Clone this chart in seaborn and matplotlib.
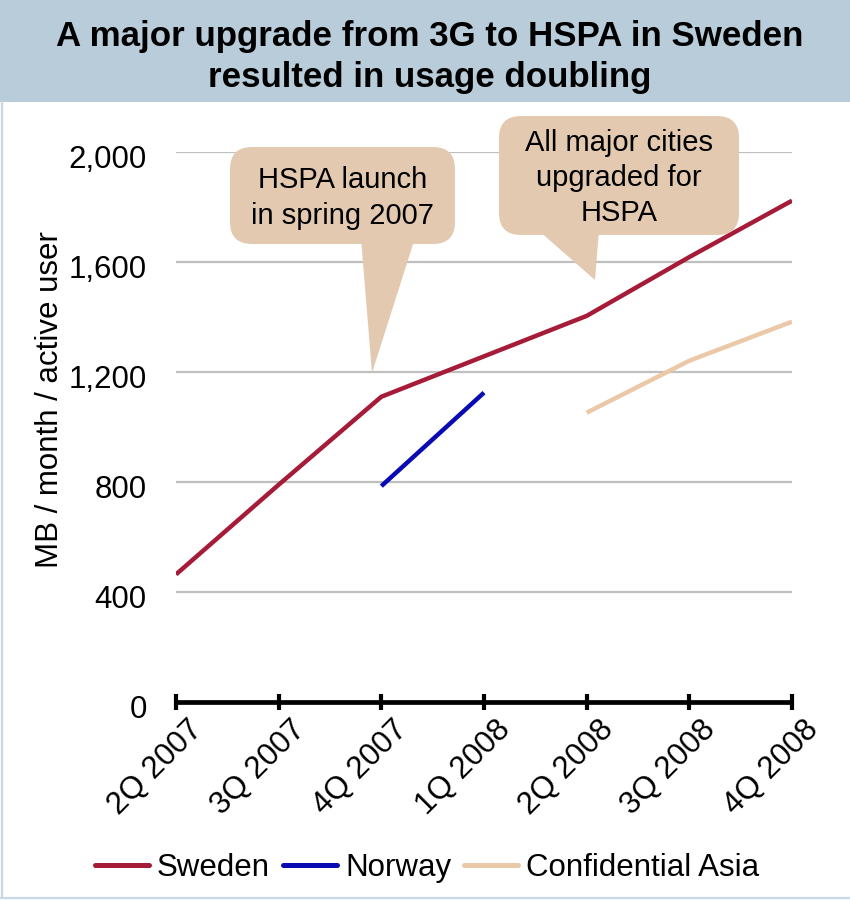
import matplotlib
matplotlib.use("Agg")
import matplotlib.pyplot as plt
import matplotlib.transforms as mtransforms
from matplotlib.patches import FancyBboxPatch, Polygon, Rectangle
from matplotlib.lines import Line2D
import seaborn as sns
import pandas as pd

# Quarterly data usage (MB / month / active user)
quarters = ["2Q 2007", "3Q 2007", "4Q 2007", "1Q 2008", "2Q 2008", "3Q 2008", "4Q 2008"]
sweden = [464, 790, 1110, 1257, 1404, 1618, 1823]
norway_quarters = ["4Q 2007", "1Q 2008"]
norway = [785, 1125]
asia_quarters = ["2Q 2008", "3Q 2008", "4Q 2008"]
asia = [1052, 1241, 1383]

series_names = ["Sweden", "Norway", "Confidential Asia"]
series_colors = ["#a51b38", "#0a0ab4", "#ebc9a8"]
y_ticks = [0, 400, 800, 1200, 1600, 2000]

frames = [
    pd.DataFrame({"quarter": quarters, "usage": sweden, "series": "Sweden"}),
    pd.DataFrame({"quarter": norway_quarters, "usage": norway, "series": "Norway"}),
    pd.DataFrame({"quarter": asia_quarters, "usage": asia, "series": "Confidential Asia"}),
]
df = pd.concat(frames, ignore_index=True)

sns.set_theme(style="white")
plt.rcParams["font.family"] = ["Liberation Sans", "DejaVu Sans"]
plt.rcParams["text.color"] = "black"
plt.rcParams["xtick.color"] = "black"
plt.rcParams["ytick.color"] = "black"
plt.rcParams["xtick.labelcolor"] = "black"
plt.rcParams["ytick.labelcolor"] = "black"

W, H = 850, 900
fig = plt.figure(figsize=(W / 100, H / 100), dpi=100)


def fx(x):
    return x / W


def fy(y):
    return 1 - y / H


# header band and thin frame
fig.patches.append(Rectangle((0, fy(102)), 1, 102 / H, transform=fig.transFigure,
                             facecolor="#b9ccda", edgecolor="none", zorder=0))
fig.add_artist(Line2D([fx(2), fx(2)], [fy(102), fy(898)], transform=fig.transFigure,
                      color="#c9d8e5", lw=1.6))
fig.add_artist(Line2D([fx(0), fx(850)], [fy(898), fy(898)], transform=fig.transFigure,
                      color="#c9d8e5", lw=1.6))

fig.text(fx(430), fy(57), "A major upgrade from 3G to HSPA in Sweden\nresulted in usage doubling",
         ha="center", va="center", fontsize=25.1, fontweight="bold", linespacing=1.3,
         color="black")

ax_left, ax_right, ax_top, ax_bottom = 176, 792, 152, 702
ax = fig.add_axes([fx(ax_left), fy(ax_bottom), (ax_right - ax_left) / W, (ax_bottom - ax_top) / H])
ax.set_facecolor("none")

sns.lineplot(data=df, x="quarter", y="usage", hue="series", hue_order=series_names,
             palette=series_colors, linewidth=3.2, ax=ax, legend=False, sort=False,
             zorder=3)
for line in ax.lines:
    line.set_solid_capstyle("butt")
    line.set_solid_joinstyle("miter")

ax.set_xlim(0, len(quarters) - 1)
ax.set_ylim(0, 2000)
ax.set_yticks(y_ticks)
ax.set_yticklabels([f"{v:,}" for v in y_ticks], fontsize=22.5)
for v in y_ticks[1:]:
    ax.axhline(v, color="#bfbfbf", lw=1.6, zorder=1)

for s in ["top", "right", "left"]:
    ax.spines[s].set_visible(False)
ax.spines["bottom"].set_linewidth(3.4)
ax.spines["bottom"].set_color("black")
ax.spines["bottom"].set_capstyle("butt")
ax.spines["bottom"].set_zorder(4)

ax.tick_params(axis="y", left=False, length=0, pad=21)
ax.tick_params(axis="x", bottom=True, direction="inout", length=11.5, width=3,
               color="black", pad=4)
ax.set_xticks(range(len(quarters)))
ax.set_xticklabels(quarters, fontsize=22.5, rotation=45, ha="right", va="center",
                   rotation_mode="anchor")
x_offset = mtransforms.ScaledTranslation(0.22, -0.10, fig.dpi_scale_trans)
for lab in ax.get_xticklabels():
    lab.set_transform(lab.get_transform() + x_offset)
y_offset = mtransforms.ScaledTranslation(0, -0.045, fig.dpi_scale_trans)
for lab in ax.get_yticklabels():
    lab.set_transform(lab.get_transform() + y_offset)

ax.set_xlabel("")
ax.set_ylabel("")
fig.text(fx(50), fy(400), "MB / month / active user", rotation=90, ha="center",
         va="center", fontsize=22.5)

# callouts
callout_color = "#e3c9b0"


def callout(box, pointer, text, text_y):
    x0, y0, x1, y1 = box
    r = 22
    patch = FancyBboxPatch((fx(x0 + r), fy(y1 - r)), fx(x1 - x0 - 2 * r), (y1 - y0 - 2 * r) / H,
                           boxstyle=f"round,pad={r / W},rounding_size={r / W}",
                           mutation_aspect=W / H,
                           transform=fig.transFigure, facecolor=callout_color,
                           edgecolor="none", zorder=5)
    fig.patches.append(patch)
    fig.patches.append(Polygon([(fx(px), fy(py)) for px, py in pointer], closed=True,
                               transform=fig.transFigure, facecolor=callout_color,
                               edgecolor="none", zorder=5))
    fig.text(fx((x0 + x1) / 2), fy(text_y), text, ha="center", va="center",
             fontsize=21, linespacing=1.32, zorder=6)


callout((230, 147, 455, 244), [(361, 238), (415, 238), (372, 373)],
        "HSPA launch\nin spring 2007", 198)
callout((499, 116, 739, 235), [(538, 230), (599, 230), (595, 280)],
        "All major cities\nupgraded for\nHSPA", 178)

handles = [Line2D([], [], color=c, lw=3.6) for c in series_colors]
fig.legend(handles, series_names, loc="center", bbox_to_anchor=(fx(427), fy(868)),
           ncol=3, frameon=False, fontsize=22.5, handlelength=1.75, handletextpad=0.25,
           columnspacing=0.4, borderaxespad=0, borderpad=0)

fig.savefig("out.png", dpi=100)
